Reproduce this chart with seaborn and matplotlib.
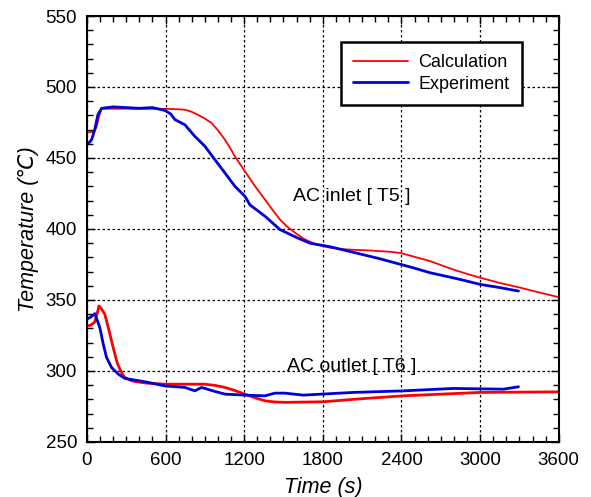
import numpy as np
import pandas as pd
import matplotlib
matplotlib.use("Agg")
import matplotlib.pyplot as plt
from matplotlib.ticker import MultipleLocator
import seaborn as sns

# AC inlet [T5]
inlet_calc_t = [0, 55, 75, 95, 112, 300, 600, 700, 748, 800, 847, 900, 952, 1000, 1053,
                1090, 1130, 1170, 1206, 1280, 1359, 1420, 1473, 1530, 1600, 1664, 1750,
                1855, 1950, 2046, 2150, 2237, 2320, 2397, 2500, 2618, 2700, 2800, 2900,
                3000, 3150, 3305, 3450, 3600]
inlet_calc_T = [468, 468.5, 472, 480, 484.7, 484.7, 484.6, 484.3, 484, 482.5, 480.4,
                477.8, 474.6, 469.5, 462.9, 457.5, 451, 445.5, 440.6, 430.5, 420.7, 413,
                406.7, 401.5, 396.5, 392.6, 389.2, 386.8, 385.8, 385.3, 384.9, 384.4,
                383.9, 383.0, 380.4, 377.4, 374.6, 371.3, 368.4, 365.7, 362, 358.7,
                355.3, 352]
inlet_exp_t = [0, 20, 36, 60, 84, 112, 200, 300, 400, 500, 595, 640, 672, 748, 824,
               901, 977, 1053, 1130, 1206, 1244, 1359, 1473, 1600, 1702, 1855, 2046,
               2237, 2397, 2489, 2618, 2847, 3000, 3153, 3250, 3293]
inlet_exp_T = [460.5, 461, 462.9, 470, 480.4, 485, 486, 485.5, 485, 485.5, 483.5, 481,
               477, 473.4, 465.2, 458.2, 448.8, 439.5, 430, 423, 417, 409, 399.6, 394,
               390, 387.5, 383.3, 379, 375, 372.7, 369.2, 364.5, 361, 358.7, 357, 356.3]

# AC outlet [T6]
outlet_calc_t = [0, 30, 60, 80, 92, 110, 137, 155, 176, 195, 214, 232, 252, 270, 290,
                 330, 366, 450, 595, 901, 980, 1053, 1130, 1206, 1280, 1359, 1430, 1511,
                 1802, 2100, 2413, 3000, 3600]
outlet_calc_T = [331.7, 332.3, 334.5, 341, 345.8, 344, 339.9, 333.5, 325.9, 318.5,
                 311.8, 305.5, 301.3, 297.8, 295.4, 293.5, 292.6, 291.5, 290.7, 290.7,
                 289.8, 288.4, 286.2, 283.7, 281.2, 279, 278.2, 277.9, 278.3, 280.5,
                 282.5, 284.9, 285.3]
outlet_exp_t = [0, 30, 61, 99, 125, 150, 188, 239, 290, 443, 595, 748, 824, 875, 977,
                1053, 1206, 1359, 1435, 1511, 1651, 2033, 2415, 2796, 3178, 3293]
outlet_exp_T = [336.5, 338, 340.4, 330.5, 318.9, 309.5, 302.5, 297.8, 294.8, 292.4,
                289.5, 288.4, 286, 288.4, 285.6, 283.7, 283, 282.5, 284.4, 284.4, 283,
                284.9, 286, 287.7, 287.2, 288.9]

sns.set_style("ticks")
plt.rcParams['font.family'] = ['Liberation Sans', 'DejaVu Sans']
plt.rcParams['text.color'] = 'black'
plt.rcParams['axes.labelcolor'] = 'black'

fig = plt.figure(figsize=(5.91, 4.97), dpi=100)
ax = fig.add_axes([0.147, 0.1107, 0.7984, 0.8571])

red, blue = '#ff0000', '#0000dd'
sns.lineplot(x=inlet_calc_t, y=inlet_calc_T, color=red, lw=1.3, ax=ax, label='Calculation')
sns.lineplot(x=inlet_exp_t, y=inlet_exp_T, color=blue, lw=2.0, ax=ax, label='Experiment')
sns.lineplot(x=outlet_calc_t, y=outlet_calc_T, color=red, lw=2.0, ax=ax)
sns.lineplot(x=outlet_exp_t, y=outlet_exp_T, color=blue, lw=2.0, ax=ax)

ax.set_xlim(0, 3600)
ax.set_ylim(250, 550)
ax.xaxis.set_major_locator(MultipleLocator(600))
ax.xaxis.set_minor_locator(MultipleLocator(100))
ax.yaxis.set_major_locator(MultipleLocator(50))
ax.yaxis.set_minor_locator(MultipleLocator(10))
ax.tick_params(which='both', direction='in', top=True, right=True, colors='black')
ax.tick_params(which='major', length=6, width=1, labelsize=13.5, pad=7)
ax.tick_params(which='minor', length=4, width=1)
ax.grid(True, which='major', color='black', linestyle=(0, (2, 2)), linewidth=0.9)
for s in ax.spines.values():
    s.set_color('black')
    s.set_linewidth(1.5)

ax.set_xlabel('Time (s)', fontsize=15.5, style='italic', labelpad=6)
ax.set_ylabel('Temperature (℃)', fontsize=15.5, style='italic', labelpad=5)

ax.text(1572, 422.8, 'AC inlet [ T5 ]', fontsize=14, va='center', ha='left')
ax.text(1527, 303.4, 'AC outlet [ T6 ]', fontsize=14, va='center', ha='left')

leg = ax.legend(loc='upper left', bbox_to_anchor=(0.538, 0.94), fancybox=False,
                framealpha=1, edgecolor='black', handlelength=3.0,
                borderpad=0.7, labelspacing=0.25, handletextpad=0.6, borderaxespad=0,
                prop={'size': 13})
leg.get_frame().set_linewidth(1.8)

fig.savefig('out.png', dpi=100)
